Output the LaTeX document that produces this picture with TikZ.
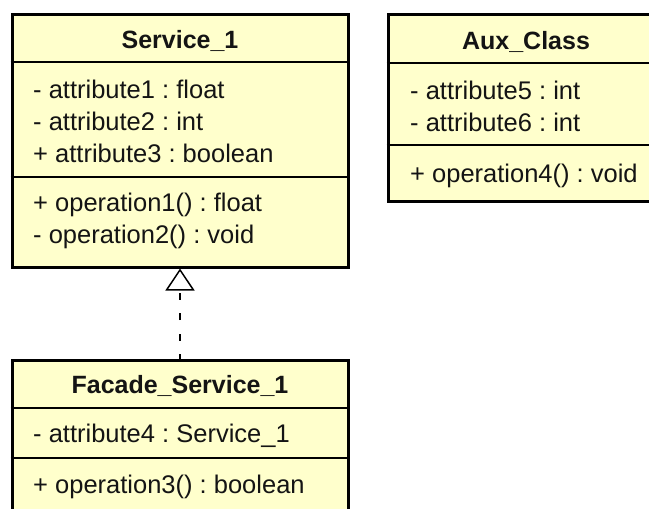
\documentclass[tikz,border=0pt]{standalone}
\usepackage{fontspec}
\setmainfont{Liberation Sans}
\usetikzlibrary{arrows.meta}
\definecolor{classfill}{HTML}{FFFFCC}
\definecolor{ink}{HTML}{141414}
\tikzset{
  classbox/.style={draw=black, fill=classfill, line width=3pt, inner sep=0pt},
  divider/.style={draw=black, line width=1.1pt},
  title/.style={anchor=base, inner sep=0pt, text=ink, font=\fontsize{25}{30}\selectfont\bfseries},
  member/.style={anchor=base west, inner sep=0pt, text=ink, font=\fontsize{25.5}{30}\selectfont\frenchspacing},
  realize/.style={draw=black, line width=1.5pt, dash pattern=on 7pt off 13.5pt, dash phase=2.5pt,
    -{Triangle[open, length=22pt, width=29pt, fill=white]}}
}
\begin{document}
\begin{tikzpicture}[x=1pt, y=-1pt]
  \useasboundingbox (0,0) rectangle (649,509);
  \clip (0,0) rectangle (649,509);

  % class Service_1
  \node[classbox, minimum width=336pt, minimum height=253pt] (svc) at (180,140.5) {};
  \draw[divider] (svc.west |- 0,62) -- (svc.east |- 0,62);
  \draw[divider] (svc.west |- 0,177) -- (svc.east |- 0,177);
  \node[title] (svcname) at (180,48) {Service\_1};
  \node[member] (svca1) at (33,98) {- attribute1 : float};
  \node[member] (svca2) at (33,130) {- attribute2 : int};
  \node[member] (svca3) at (33,162) {+ attribute3 : boolean};
  \node[member] (svco1) at (33,211) {+ operation1() : float};
  \node[member] (svco2) at (33,243) {- operation2() : void};

  % class Aux_Class
  \node[classbox, minimum width=276pt, minimum height=187pt] (aux) at (526,107.5) {};
  \draw[divider] (aux.west |- 0,63) -- (aux.east |- 0,63);
  \draw[divider] (aux.west |- 0,145) -- (aux.east |- 0,145);
  \node[title] (auxname) at (526,49) {Aux\_Class};
  \node[member] (auxa5) at (410,99) {- attribute5 : int};
  \node[member] (auxa6) at (410,131) {- attribute6 : int};
  \node[member] (auxo4) at (410,182) {+ operation4() : void};

  % class Facade_Service_1
  \node[classbox, minimum width=336pt, minimum height=200pt] (fac) at (180,460) {};
  \draw[divider] (fac.west |- 0,408) -- (fac.east |- 0,408);
  \draw[divider] (fac.west |- 0,458) -- (fac.east |- 0,458);
  \node[title] (facname) at (180,393) {Facade\_Service\_1};
  \node[member] (faca4) at (33,442) {- attribute4 : Service\_1};
  \node[member] (faco3) at (33,493) {+ operation3() : boolean};

  % realization: Facade_Service_1 implements Service_1
  \draw[realize] (fac.north) -- (svc.south);
\end{tikzpicture}
\end{document}
